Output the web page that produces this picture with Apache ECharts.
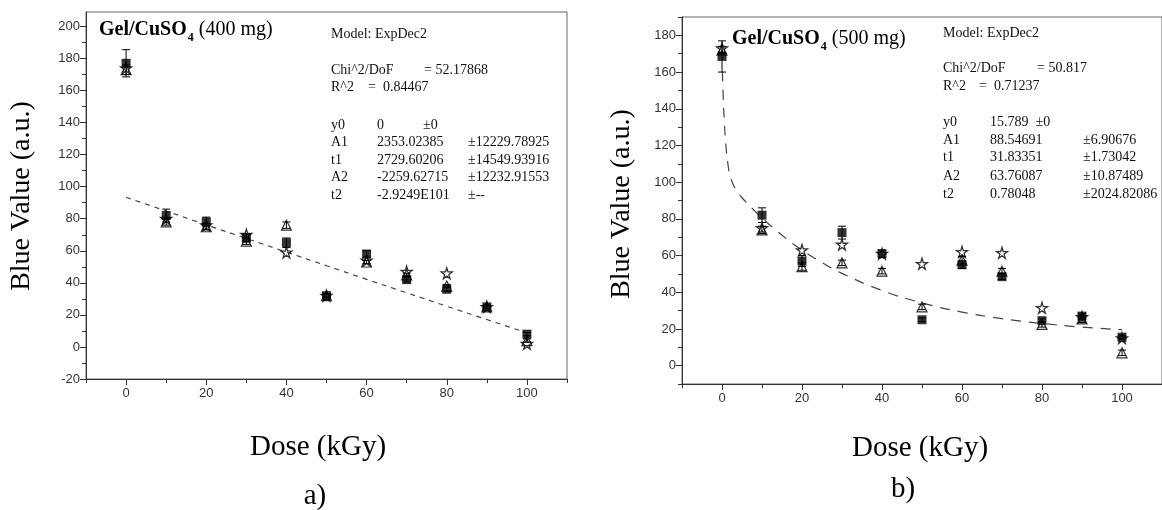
<!DOCTYPE html>
<html>
<head>
<meta charset="utf-8">
<script src="https://cdn.jsdelivr.net/npm/echarts@6/dist/echarts.min.js"></script>
<style>html,body{margin:0;padding:0;background:#fff;}#c{width:1162px;height:510px;}</style>
</head>
<body>
<div id="c"></div>
<script>
// ---- data ----
const doses = [0, 10, 20, 30, 40, 50, 60, 70, 80, 90, 100];
// panel a) Gel/CuSO4 (400 mg)
const squareA = [177, 82, 78, 68, 65, 32, 58, 42, 36, 25, 8];
const squareErrA = [8.5, 4, 3, 2.5, 3, 1, 2, 1.5, 1.5, 1, 1];
const triA = [173, 78, 75, 66, 76, 32, 53, 45, 38, 25, 4];
const triErrA = [3, 2, 2, 2, 2, 1, 1, 1, 1, 1, 1];
const starA = [174, 80, 76, 70, 59, 32, 54, 47, 46, 25, 2];
const fitDoseA = [0, 10, 20, 30, 40, 50, 60, 70, 80, 90, 100];
const fitA = [93.4, 84.8, 76.2, 67.7, 59.2, 50.7, 42.2, 33.8, 25.4, 17.1, 8.8];
// panel b) Gel/CuSO4 (500 mg)
const squareB = [168.5, 82, 57, 72.5, 61, 25, 55, 48.5, 24.5, 27, 15.5];
const squareErrB = [8.5, 4, 3, 3.5, 2, 1, 2, 1.5, 1, 1.5, 1];
const triB = [172, 74, 54, 56, 51.5, 32, 57.5, 51.5, 22.5, 25.5, 7];
const triErrB = [2, 2, 2, 1.5, 1.5, 1.5, 2, 1.5, 1.5, 2, 1.5];
const starB = [173, 75, 63, 66, 61, 55.5, 62, 61.5, 31.5, 26.5, 15];
const fitDoseB = [0.1, 0.3, 0.6, 1, 1.5, 2, 3, 4, 5, 7.5, 10, 15, 20, 25, 30, 40, 50, 60, 70, 80, 90, 100];
const fitB = [160.2, 146.9, 132.2, 119.3, 109.6, 103.8, 97.7, 94.3, 91.5, 85.8, 80.5, 71.1, 63.0, 56.2, 50.3, 41.0, 34.2, 29.2, 25.6, 23.0, 21.0, 19.6];
// ticks
const xMajor = [0, 20, 40, 60, 80, 100];
const xMinor = [-10, 10, 30, 50, 70, 90, 110];
const yMajorA = [-20, 0, 20, 40, 60, 80, 100, 120, 140, 160, 180, 200];
const yMinorA = [-10, 10, 30, 50, 70, 90, 110, 130, 150, 170, 190];
const yMajorB = [0, 20, 40, 60, 80, 100, 120, 140, 160, 180];
const yMinorB = [-10, 10, 30, 50, 70, 90, 110, 130, 150, 170, 190];
// fit report texts
const reportA = {
  model: 'Model: ExpDec2', chi: 'Chi^2/DoF', chiVal: '= 52.17868', r: 'R^2', rVal: '=  0.84467',
  rows: [['y0', '0', '±0', ''], ['A1', '2353.02385', '', '±12229.78925'], ['t1', '2729.60206', '', '±14549.93916'],
         ['A2', '-2259.62715', '', '±12232.91553'], ['t2', '-2.9249E101', '', '±--']]
};
const reportB = {
  model: 'Model: ExpDec2', chi: 'Chi^2/DoF', chiVal: '= 50.817', r: 'R^2', rVal: '=  0.71237',
  rows: [['y0', '15.789  ±0', '', ''], ['A1', '88.54691', '', '±6.90676'], ['t1', '31.83351', '', '±1.73042'],
         ['A2', '63.76087', '', '±10.87489'], ['t2', '0.78048', '', '±2024.82086']]
};

const SERIF = '"Liberation Serif", "Times New Roman", serif';
const SANS = '"Liberation Sans", Arial, sans-serif';
const starPath = 'path://M50,0 L61,35 L98,35 L68,57 L79,91 L50,70 L21,91 L32,57 L2,35 L39,35 Z';

function pairs(xs, ys) { return xs.map((x, i) => [x, ys[i]]); }
function errData(xs, ys, es) { return xs.map((x, i) => [x, ys[i], es[i]]); }

function xAxes(grid) {
  return [
    { type: 'value', gridIndex: grid, min: -10, max: 110, position: 'bottom', offset: 0,
      axisLine: { show: true, onZero: false, lineStyle: { color: '#333', width: 1 } },
      axisTick: { show: true, inside: false, length: 6, customValues: xMajor, lineStyle: { color: '#333' } },
      axisLabel: { customValues: xMajor, color: '#333', fontFamily: SANS, fontSize: 13, margin: 8 },
      splitLine: { show: false } },
    { type: 'value', gridIndex: grid, min: -10, max: 110, position: 'bottom', offset: 0,
      axisLine: { show: false, onZero: false },
      axisTick: { show: true, length: 4, customValues: xMinor, lineStyle: { color: '#333' } },
      axisLabel: { show: false }, splitLine: { show: false } }
  ];
}
function yAxes(grid, min, max, major, minor) {
  return [
    { type: 'value', gridIndex: grid, min: min, max: max, position: 'left', offset: 0,
      axisLine: { show: true, onZero: false, lineStyle: { color: '#333', width: 1 } },
      axisTick: { show: true, length: 6, customValues: major, lineStyle: { color: '#333' } },
      axisLabel: { customValues: major, color: '#333', fontFamily: SANS, fontSize: 13, margin: 6 },
      splitLine: { show: false } },
    { type: 'value', gridIndex: grid, min: min, max: max, position: 'left', offset: 0,
      axisLine: { show: false, onZero: false },
      axisTick: { show: true, length: 4, customValues: minor, lineStyle: { color: '#333' } },
      axisLabel: { show: false }, splitLine: { show: false } }
  ];
}

function errSeries(xi, yi, data) {
  return {
    type: 'custom', xAxisIndex: xi, yAxisIndex: yi, z: 3, silent: true,
    data: data,
    renderItem: function (params, api) {
      const x = api.value(0), v = api.value(1), e = api.value(2);
      const top = api.coord([x, v + e]);
      const bot = api.coord([x, v - e]);
      const w = 4;
      const st = { stroke: '#000', lineWidth: 1 };
      return { type: 'group', children: [
        { type: 'line', shape: { x1: top[0], y1: top[1], x2: bot[0], y2: bot[1] }, style: st },
        { type: 'line', shape: { x1: top[0] - w, y1: top[1], x2: top[0] + w, y2: top[1] }, style: st },
        { type: 'line', shape: { x1: bot[0] - w, y1: bot[1], x2: bot[0] + w, y2: bot[1] }, style: st }
      ] };
    }
  };
}

function panelSeries(xi, yi, sq, sqE, tr, trE, st, fx, fy, dash) {
  return [
    { type: 'line', xAxisIndex: xi, yAxisIndex: yi, data: pairs(fx, fy), showSymbol: false, smooth: true,
      lineStyle: { color: '#444', width: 1.2, type: dash }, z: 1, silent: true },
    errSeries(xi, yi, errData(doses, tr, trE)),
    { type: 'scatter', xAxisIndex: xi, yAxisIndex: yi, data: pairs(doses, tr), symbol: 'triangle', symbolSize: 10,
      itemStyle: { color: 'rgba(255,255,255,0)', borderColor: '#000', borderWidth: 1.2 }, z: 4 },
    { type: 'scatter', xAxisIndex: xi, yAxisIndex: yi, data: pairs(doses, st), symbol: starPath, symbolSize: 11,
      itemStyle: { color: 'rgba(255,255,255,0)', borderColor: '#000', borderWidth: 1.3 }, z: 4 },
    errSeries(xi, yi, errData(doses, sq, sqE)),
    { type: 'scatter', xAxisIndex: xi, yAxisIndex: yi, data: pairs(doses, sq), symbol: 'rect', symbolSize: 9,
      itemStyle: { color: '#000' }, z: 5 }
  ];
}

function reportGraphics(rep, x0, xVal, xPm, xErr, xChiVal, xRVal, yModel, yChi, yR, yRows) {
  const f = '14px ' + SERIF;
  const g = [];
  function t(x, y, s) {
    g.push({ type: 'text', x: x, y: y, style: { text: s, font: f, fill: '#111', verticalAlign: 'middle', align: 'left' }, silent: true });
  }
  t(x0, yModel, rep.model);
  t(x0, yChi, rep.chi); t(xChiVal, yChi, rep.chiVal);
  t(x0, yR, rep.r); t(xRVal, yR, rep.rVal);
  rep.rows.forEach((r, i) => {
    t(x0, yRows[i], r[0]);
    t(xVal, yRows[i], r[1]);
    if (r[2]) t(xPm, yRows[i], r[2]);
    if (r[3]) t(xErr, yRows[i], r[3]);
  });
  return g;
}

function titleGraphic(x, y, amount) {
  return { type: 'text', x: x, y: y, silent: true,
    style: { text: '{b|Gel/CuSO}{s|4}{r| (' + amount + ')}', verticalAlign: 'middle', align: 'left',
      rich: {
        b: { fontFamily: SERIF, fontSize: 20, fontWeight: 'bold', fill: '#000' },
        s: { fontFamily: SERIF, fontSize: 12, fontWeight: 'bold', fill: '#000', padding: [16, 0, 0, 1] },
        r: { fontFamily: SERIF, fontSize: 20, fill: '#000' }
      } } };
}
function bigText(x, y, s, rot, size) {
  return { type: 'text', x: x, y: y, rotation: rot || 0, silent: true,
    style: { text: s, fontFamily: SERIF, fontSize: size, fill: '#000', align: 'center', verticalAlign: 'middle' } };
}

const chart = echarts.init(document.getElementById('c'), null, { renderer: 'canvas' });
const graphics = [].concat(
  [titleGraphic(99, 30, '400 mg'), titleGraphic(732, 39, '500 mg')],
  reportGraphics(reportA, 331, 377, 423, 468, 424, 368, 34, 70, 87.5, [125, 142, 160, 177.5, 195]),
  reportGraphics(reportB, 943, 990, 0, 1083, 1037, 979, 33, 68, 86, [122.5, 140, 157.5, 176.5, 194]),
  [bigText(22, 196, 'Blue Value (a.u.)', Math.PI / 2, 28),
   bigText(622, 204, 'Blue Value (a.u.)', Math.PI / 2, 28),
   bigText(318, 447, 'Dose (kGy)', 0, 29),
   bigText(920, 448, 'Dose (kGy)', 0, 29),
   bigText(315, 496, 'a)', 0, 29),
   bigText(903, 489, 'b)', 0, 29)]
);

chart.setOption({
  animation: false,
  backgroundColor: '#fff',
  grid: [
    { left: 86, top: 12, width: 481, height: 367, show: true, borderColor: '#666', borderWidth: 1, backgroundColor: 'transparent' },
    { left: 682, top: 17, width: 480, height: 367, show: true, borderColor: '#666', borderWidth: 1, backgroundColor: 'transparent' }
  ],
  xAxis: [].concat(xAxes(0), xAxes(1)),
  yAxis: [].concat(yAxes(0, -20, 209, yMajorA, yMinorA), yAxes(1, -10, 190, yMajorB, yMinorB)),
  series: [].concat(
    panelSeries(0, 0, squareA, squareErrA, triA, triErrA, starA, fitDoseA, fitA, [5, 5]),
    panelSeries(2, 2, squareB, squareErrB, triB, triErrB, starB, fitDoseB, fitB, [10, 8])
  ),
  graphic: graphics
});
</script>
</body>
</html>
